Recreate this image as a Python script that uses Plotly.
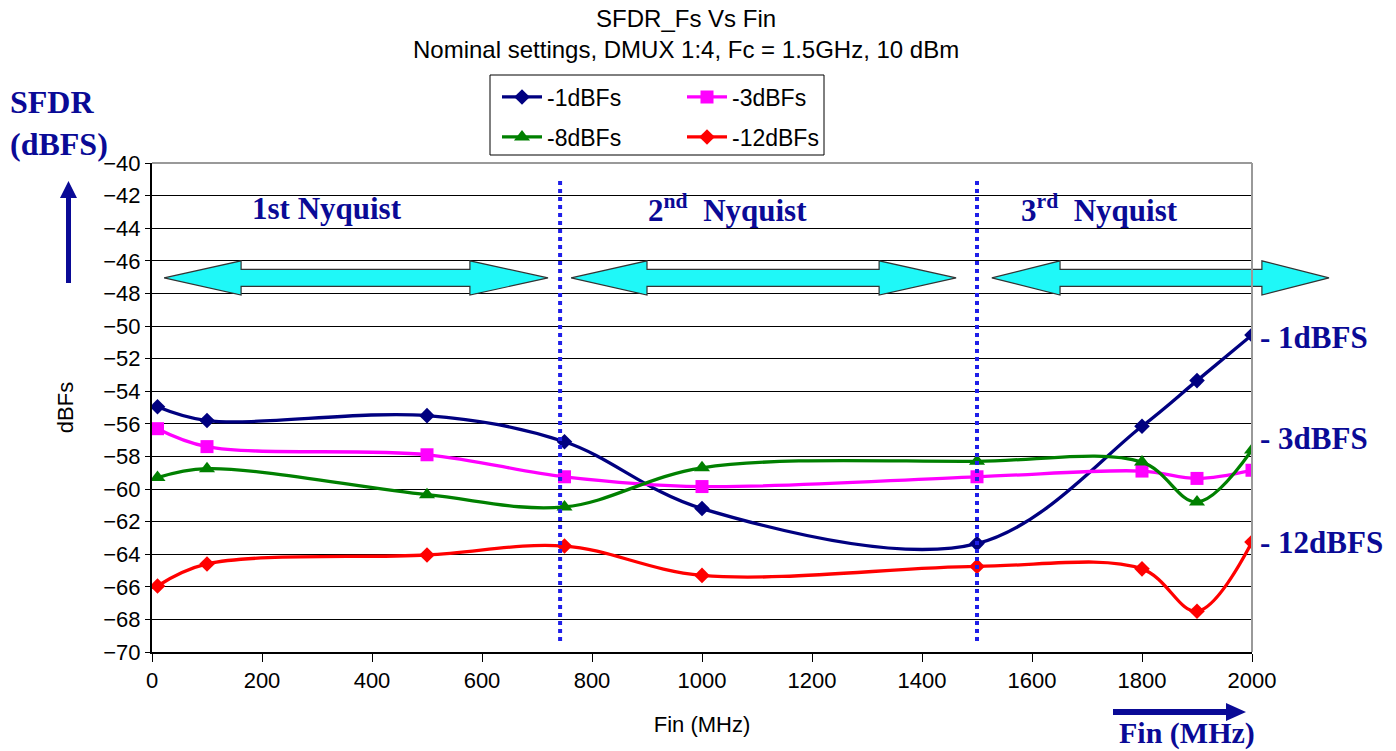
import plotly.graph_objects as go

fin = [10, 100, 500, 750, 1000, 1500, 1800, 1900, 2000]
s_1 = [-54.95, -55.8, -55.5, -57.1, -61.2, -63.35, -56.15, -53.35, -50.55]
s_3 = [-56.3, -57.4, -57.9, -59.25, -59.85, -59.25, -58.9, -59.35, -58.85]
s_8 = [-59.3, -58.75, -60.35, -61.1, -58.7, -58.3, -58.35, -60.8, -57.6]
s_12 = [-65.95, -64.6, -64.05, -63.5, -65.3, -64.75, -64.9, -67.5, -63.25]

names = ["-1dBFs", "-3dBFs", "-8dBFs", "-12dBFs"]
colors = ["#000080", "#ff00ff", "#008000", "#ff0000"]
symbols = ["diamond", "square", "triangle-up", "diamond"]
msizes = [12, 13, 14, 12]
legends = ["legend", "legend", "legend2", "legend2"]
series = [s_1, s_3, s_8, s_12]

nyq_bounds = [742, 1500]
XMIN, XMAX, YMIN, YMAX = 0, 2000, -70, -40

NAVY = "#0a0a96"
SERIF = "Liberation Serif, Times New Roman, serif"
SANS = "Liberation Sans, Arial, sans-serif"

fig = go.Figure()
for name, ys, c, sym, ms, lg in zip(names, series, colors, symbols, msizes, legends):
    fig.add_trace(go.Scatter(
        x=fin, y=ys, name=name, mode="lines+markers",
        line=dict(color=c, width=3.3, shape="spline", smoothing=1),
        marker=dict(symbol=sym, size=ms, color=c),
        legend=lg,
    ))

def px(xv):
    return (xv - XMIN) / (XMAX - XMIN)

def py(yv):
    return (yv - YMIN) / (YMAX - YMIN)

shapes = []
for b in nyq_bounds:
    shapes.append(dict(type="line", xref="x", yref="y", x0=b, x1=b, y0=-41.1, y1=-69.4,
                       line=dict(color="#1f1fe8", width=4, dash="dot")))

arrows = [(22, 162, 578, 720), (762, 900, 1322, 1462), (1527, 1651, 2018, 2140)]
yc, hh, sh = -47.05, 1.05, 0.52
for (a, b, c, d) in arrows:
    pts = [(a, yc), (b, yc + hh), (b, yc + sh), (c, yc + sh), (c, yc + hh), (d, yc),
           (c, yc - hh), (c, yc - sh), (b, yc - sh), (b, yc - hh)]
    path = "M " + " L ".join(f"{px(x):.5f},{py(y):.5f}" for x, y in pts) + " Z"
    shapes.append(dict(type="path", xref="paper", yref="paper", path=path,
                       fillcolor="#1ff8f8", line=dict(color="#333333", width=1.2)))

shapes.append(dict(type="line", xref="paper", yref="paper", x0=0, x1=1, y0=1, y1=1,
                   line=dict(color="#999999", width=2)))
shapes.append(dict(type="line", xref="paper", yref="paper", x0=1, x1=1, y0=0, y1=1,
                   line=dict(color="#999999", width=2)))

W, H = 1100, 489
def ppx(p):
    return (p - 152) / W
def ppy(p):
    return (652 - p) / H
shapes.append(dict(type="rect", xref="paper", yref="paper", x0=ppx(490), x1=ppx(824),
                   y0=ppy(155), y1=ppy(75), line=dict(color="#000000", width=1),
                   fillcolor="rgba(0,0,0,0)"))

up = [(66, 283), (66, 198), (60, 198), (68.5, 181), (77, 198), (71, 198), (71, 283)]
shapes.append(dict(type="path", xref="paper", yref="paper",
                   path="M " + " L ".join(f"{ppx(a):.5f},{ppy(b):.5f}" for a, b in up) + " Z",
                   fillcolor=NAVY, line=dict(color=NAVY, width=0)))
rt = [(1113, 709), (1226, 709), (1226, 703), (1246, 712), (1226, 721), (1226, 715), (1113, 715)]
shapes.append(dict(type="path", xref="paper", yref="paper",
                   path="M " + " L ".join(f"{ppx(a):.5f},{ppy(b):.5f}" for a, b in rt) + " Z",
                   fillcolor=NAVY, line=dict(color=NAVY, width=0)))

ann = []
ann.append(dict(xref="paper", yref="paper", x=ppx(686), y=ppy(34), xanchor="center", yanchor="middle",
                text="SFDR_Fs Vs Fin<br>Nominal settings, DMUX 1:4, Fc = 1.5GHz, 10 dBm",
                showarrow=False, font=dict(family=SANS, size=24, color="#000000")))
ann.append(dict(xref="paper", yref="paper", x=ppx(8), y=ppy(123), xanchor="left", yanchor="middle",
                text="<b>SFDR<br>(dBFS)</b>", align="left", showarrow=False,
                font=dict(family=SERIF, size=32, color=NAVY)))
for txt, cx in [("<b>1st Nyquist</b>", 327), ("<b>2<sup>nd</sup>  Nyquist</b>", 727),
                ("<b>3<sup>rd</sup>  Nyquist</b>", 1099)]:
    ann.append(dict(xref="paper", yref="paper", x=ppx(cx), y=ppy(208), xanchor="center",
                    yanchor="middle", text=txt, showarrow=False,
                    font=dict(family=SERIF, size=31, color=NAVY)))
for txt, cy in [("<b>- 1dBFS</b>", 337), ("<b>- 3dBFS</b>", 438), ("<b>- 12dBFS</b>", 542)]:
    ann.append(dict(xref="paper", yref="paper", x=ppx(1258), y=ppy(cy), xanchor="left",
                    yanchor="middle", text=txt, showarrow=False,
                    font=dict(family=SERIF, size=31, color=NAVY)))
ann.append(dict(xref="paper", yref="paper", x=ppx(1187), y=ppy(733), xanchor="center",
                yanchor="middle", text="<b>Fin (MHz)</b>", showarrow=False,
                font=dict(family=SERIF, size=30, color=NAVY)))

leg_common = dict(orientation="h", xanchor="left", yanchor="middle", bgcolor="rgba(0,0,0,0)",
                  borderwidth=0, font=dict(family=SANS, size=23, color="#000000"),
                  entrywidth=130, itemwidth=40, tracegroupgap=0)

fig.update_layout(
    width=1396, height=751, autosize=False,
    margin=dict(l=152, r=144, t=163, b=99),
    paper_bgcolor="white", plot_bgcolor="white",
    font=dict(family=SANS, size=22, color="#000000"),
    showlegend=True,
    legend=dict(x=ppx(497), y=ppy(97), **leg_common),
    legend2=dict(x=ppx(497), y=ppy(137), **leg_common),
    xaxis=dict(range=[XMIN, XMAX], dtick=200, tick0=0, showgrid=False, showline=True,
               linecolor="#000000", linewidth=2, ticks="outside", ticklen=8, tickcolor="#000000",
               tickwidth=1, zeroline=False, title=dict(text="Fin (MHz)", standoff=24,
               font=dict(family=SANS, size=22)), tickfont=dict(family=SANS, size=22)),
    yaxis=dict(range=[YMIN, YMAX], dtick=2, tick0=-70, showgrid=True, gridcolor="#000000",
               gridwidth=1, showline=True, linecolor="#000000", linewidth=2, ticks="outside",
               ticklen=5, tickcolor="#000000", zeroline=False,
               title=dict(text="dBFs", standoff=24, font=dict(family=SANS, size=22)),
               tickfont=dict(family=SANS, size=22)),
    shapes=shapes,
    annotations=ann,
)

fig.write_html("out.html")
